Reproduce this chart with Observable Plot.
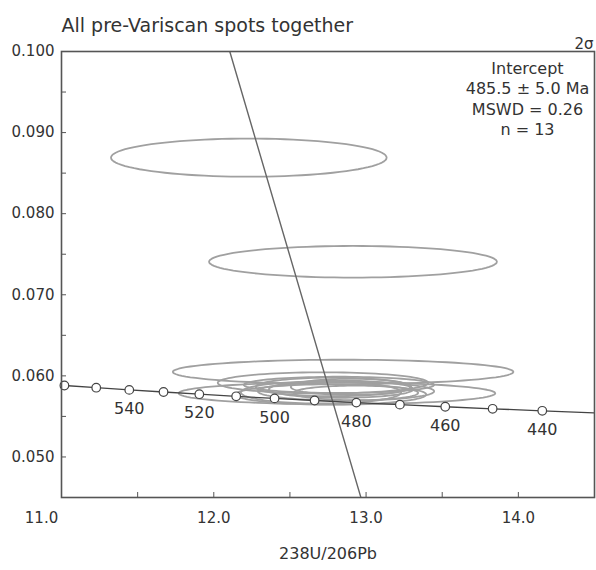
<!DOCTYPE html>
<html>
<head>
<meta charset="utf-8">
<script src="https://cdn.jsdelivr.net/npm/d3@7"></script>
<script src="https://cdn.jsdelivr.net/npm/@observablehq/plot@0.6"></script>
<style>
  body { margin: 0; background: #fff; }
  #chart svg { display: block; }
</style>
</head>
<body>
<div id="chart"></div>
<script>
// ---- Texts ----
const titleText = "All pre-Variscan spots together";
const sigmaText = "2σ";
const annotationLines = ["Intercept", "485.5 ± 5.0 Ma", "MSWD = 0.26", "n = 13"];
const xLabelText = "238U/206Pb";

// ---- Axis ticks ----
const xMajorTicks = [12, 13, 14];
const xFirstTick = [11];
const xMinorTicks = [11.5, 12.5, 13.5];
const yMajorTicks = [0.050, 0.060, 0.070, 0.080, 0.090, 0.100];
const yMinorTicks = [0.055, 0.065, 0.075, 0.085, 0.095];

// ---- Concordia curve (Tera-Wasserburg), age in Ma ----
const concAge = [420, 430, 440, 450, 460, 470, 480, 490, 500, 510, 520, 530, 540, 550, 560, 570];
const concX   = [14.854, 14.497, 14.157, 13.831, 13.520, 13.222, 12.936, 12.662, 12.399, 12.147, 11.905, 11.670, 11.445, 11.228, 11.019, 10.817];
const concY   = [0.05519, 0.05544, 0.05569, 0.05594, 0.05619, 0.05645, 0.05670, 0.05696, 0.05722, 0.05748, 0.05774, 0.05801, 0.05827, 0.05854, 0.05881, 0.05908];
const markerAges = [440, 450, 460, 470, 480, 490, 500, 510, 520, 530, 540, 550, 560];
const labelAges  = [440, 460, 480, 500, 520, 540];

// ---- Discordia line end points ----
const discX = [12.105, 12.966];
const discY = [0.100, 0.045];

// ---- Error ellipses (2 sigma): centre and semi-axes ----
const ellX  = [12.230, 12.914, 12.849, 12.717, 12.809, 12.783, 12.836, 12.868, 12.901, 12.770, 12.934, 12.704, 12.822];
const ellY  = [0.08691, 0.07407, 0.06049, 0.05914, 0.05785, 0.05864, 0.05835, 0.05810, 0.05864, 0.05770, 0.05790, 0.05795, 0.05889];
const ellRx = [0.905, 0.945, 1.118, 0.691, 1.039, 0.507, 0.474, 0.579, 0.395, 0.625, 0.408, 0.526, 0.625];
const ellRy = [0.00235, 0.00195, 0.00150, 0.00130, 0.00136, 0.00115, 0.00105, 0.00115, 0.00100, 0.00125, 0.00090, 0.00136, 0.00100];

// ---- Build tables ----
const conc = concAge.map((a, i) => ({age: a, x: concX[i], y: concY[i]}));
const markers = conc.filter(d => markerAges.includes(d.age));
const labels = conc.filter(d => labelAges.includes(d.age));
const disc = discX.map((x, i) => ({x, y: discY[i]}));

const ellPts = [];
ellX.forEach((cx, i) => {
  for (let k = 0; k <= 96; k++) {
    const a = (k / 96) * 2 * Math.PI;
    ellPts.push({id: i, x: cx + ellRx[i] * Math.cos(a), y: ellY[i] + ellRy[i] * Math.sin(a)});
  }
});

const textColor = "#333";
const font = "DejaVu Sans, sans-serif";

const chart = Plot.plot({
  width: 596,
  height: 570,
  marginLeft: 61,
  marginRight: 2,
  marginTop: 51,
  marginBottom: 73,
  style: {fontFamily: font, fontSize: "15px", color: textColor, background: "#fff"},
  x: {domain: [11, 14.5], axis: null},
  y: {domain: [0.045, 0.100], axis: null},
  marks: [
    // ellipses
    Plot.line(ellPts, {x: "x", y: "y", z: "id", stroke: "#a0a0a0", strokeWidth: 1.8, clip: true}),
    // discordia
    Plot.line(disc, {x: "x", y: "y", stroke: "#666", strokeWidth: 1.4, clip: true}),
    // concordia
    Plot.line(conc, {x: "x", y: "y", stroke: "#444", strokeWidth: 1.3, clip: true}),
    Plot.dot(markers, {x: "x", y: "y", r: 4.3, fill: "#fff", stroke: "#444", strokeWidth: 1.2}),
    Plot.text(labels, {x: "x", y: "y", text: d => String(d.age), dy: 19, fontSize: 16, fill: textColor}),
    // axes
    Plot.axisY({ticks: yMajorTicks, tickSize: 5, dx: 5, tickPadding: 7, tickFormat: d3.format(".3f"), label: null, stroke: "#555", fontSize: 15}),
    Plot.axisY({ticks: yMinorTicks, tickSize: 5, dx: 5, tickFormat: () => "", label: null, stroke: "#555"}),
    Plot.axisX({ticks: xMajorTicks, tickSize: 5, dy: -5, tickPadding: 15, tickFormat: d3.format(".1f"), label: null, stroke: "#555", fontSize: 15}),
    Plot.axisX({ticks: xFirstTick, tickSize: 0, dx: -20, tickPadding: 15, tickFormat: d3.format(".1f"), label: null, fontSize: 15}),
    Plot.axisX({ticks: xMinorTicks, tickSize: 5, dy: -5, tickFormat: () => "", label: null, stroke: "#555"}),
    Plot.frame({stroke: "#555", strokeWidth: 1.6}),
    // texts
    Plot.text([titleText], {text: d => d, frameAnchor: "top-left", textAnchor: "start", dy: -33, fontSize: 19, fill: textColor}),
    Plot.text([sigmaText], {text: d => d, frameAnchor: "top-right", textAnchor: "end", dy: -13, dx: -1, fontSize: 15, fill: textColor}),
    Plot.text([annotationLines.join("\n")], {text: d => d, frameAnchor: "top-right", textAnchor: "middle", lineAnchor: "top", lineHeight: 1.27, dx: -67, dy: 8, fontSize: 16, fill: textColor}),
    Plot.text([xLabelText], {text: d => d, frameAnchor: "bottom", dy: 61, fontSize: 16, fill: textColor})
  ]
});
document.getElementById("chart").appendChild(chart);
</script>
</body>
</html>
